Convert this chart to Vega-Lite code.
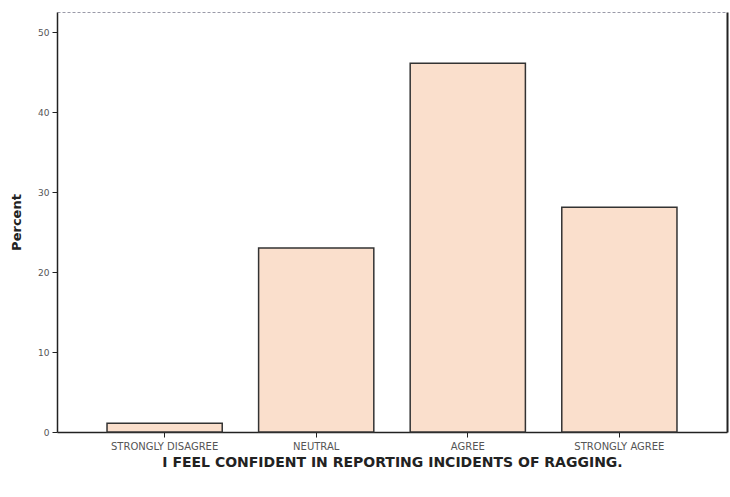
{
  "$schema": "https://vega.github.io/schema/vega-lite/v6.json",
  "width": 670,
  "height": 420,
  "autosize": "none",
  "padding": {"left": 57, "top": 12, "right": 3, "bottom": 65},
  "background": "white",
  "config": {"view": {"stroke": null}},
  "data": {
    "values": [
      {"response": "STRONGLY DISAGREE", "percent": 1.1},
      {"response": "NEUTRAL", "percent": 23.0},
      {"response": "AGREE", "percent": 46.1},
      {"response": "STRONGLY AGREE", "percent": 28.1}
    ]
  },
  "resolve": {"axis": {"x": "independent", "y": "independent"}},
  "layer": [
    {
      "mark": {"type": "bar", "fill": "#fadfcc", "stroke": "#333333", "strokeWidth": 1.5},
      "encoding": {
        "x": {
          "field": "response",
          "type": "nominal",
          "sort": ["STRONGLY DISAGREE", "NEUTRAL", "AGREE", "STRONGLY AGREE"],
          "scale": {"paddingInner": 0.24, "paddingOuter": 0.33},
          "axis": {
            "title": "I FEEL CONFIDENT IN REPORTING INCIDENTS OF RAGGING.",
            "titleFont": "DejaVu Sans",
            "titleFontSize": 14,
            "titleFontWeight": "bold",
            "titleColor": "#222222",
            "titlePadding": 4,
            "labelAngle": 0,
            "labelFont": "DejaVu Sans",
            "labelFontSize": 10,
            "labelColor": "#555555",
            "labelPadding": 4,
            "domainColor": "#222222",
            "domainWidth": 1.5,
            "tickColor": "#222222",
            "tickSize": 5,
            "grid": false
          }
        },
        "y": {
          "field": "percent",
          "type": "quantitative",
          "scale": {"domain": [0, 52.5], "nice": false},
          "axis": {
            "title": "Percent",
            "values": [0, 10, 20, 30, 40, 50],
            "titleFont": "DejaVu Sans",
            "titleFontSize": 13,
            "titleFontWeight": "bold",
            "titleColor": "#222222",
            "titlePadding": 14,
            "labelFont": "DejaVu Sans",
            "labelFontSize": 9,
            "labelColor": "#555555",
            "labelPadding": 3,
            "domainColor": "#222222",
            "domainWidth": 1.5,
            "tickColor": "#222222",
            "tickSize": 5,
            "grid": false
          }
        }
      }
    },
    {
      "mark": {"type": "bar", "opacity": 0},
      "encoding": {
        "x": {
          "field": "response",
          "type": "nominal",
          "sort": ["STRONGLY DISAGREE", "NEUTRAL", "AGREE", "STRONGLY AGREE"],
          "axis": {
            "orient": "top",
            "title": null,
            "labels": false,
            "ticks": false,
            "grid": false,
            "domainColor": "#9a9aa8",
            "domainWidth": 1,
            "domainDash": [3, 2]
          }
        },
        "y": {
          "field": "percent",
          "type": "quantitative",
          "axis": {
            "orient": "right",
            "title": null,
            "labels": false,
            "ticks": false,
            "grid": false,
            "domainColor": "#222222",
            "domainWidth": 2
          }
        }
      }
    }
  ]
}
